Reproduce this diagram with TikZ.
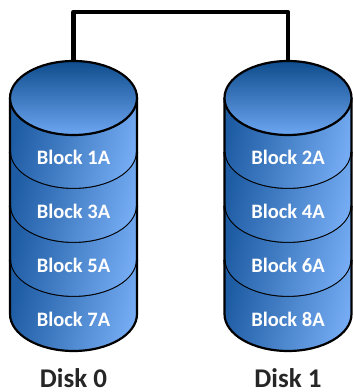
\documentclass[tikz,border=0pt]{standalone}
\usepackage{fontspec}
\setmainfont{Carlito}
\begin{document}
\begin{tikzpicture}[x=1pt,y=1pt,
  outline/.style={draw=black,line width=2.2pt},
  bandlabel/.style={text=white,font=\bfseries\fontsize{20.5}{24}\selectfont,inner sep=0pt},
  disklabel/.style={text=black!85,font=\bfseries\fontsize{27}{32}\selectfont,inner sep=0pt,anchor=base},
  link/.style={draw=black,line width=4.5pt,line join=round}]
\definecolor{topdark}{HTML}{0E4C8C}
\definecolor{toplight}{HTML}{6DA6F2}
\definecolor{banddark}{HTML}{1E5CA3}
\definecolor{bandlight}{HTML}{74ABF2}
\useasboundingbox (0,0) rectangle (353,392);
\def\rx{63.5}
\def\ry{37}
% one stacked cylinder per disk: four bands below a shaded top ellipse
\foreach \cx/\name/\a/\b/\c/\d in {73.5/0/1A/3A/5A/7A, 288/1/2A/4A/6A/8A}{
  \foreach \k/\lbl in {0/\a,1/\b,2/\c,3/\d}{
    \pgfmathsetmacro{\yt}{294-54*\k}
    \pgfmathsetmacro{\yb}{\yt-54}
    \shade[left color=banddark,right color=bandlight,shading angle=75]
      (\cx-\rx,\yt) arc[start angle=180,end angle=360,x radius=\rx,y radius=\ry]
      -- (\cx+\rx,\yb) arc[start angle=0,end angle=-180,x radius=\rx,y radius=\ry] -- cycle;
    \draw[outline]
      (\cx-\rx,\yt) -- (\cx-\rx,\yb) arc[start angle=180,end angle=360,x radius=\rx,y radius=\ry]
      -- (\cx+\rx,\yt);
    \node[bandlabel] (b\name\k) at (\cx,\yb-5) {Block \lbl};
  }
  \shade[top color=topdark,bottom color=toplight,outline]
    (\cx,294) ellipse[x radius=\rx,y radius=\ry];
  \coordinate (top\name) at (\cx,331);
  \node[disklabel] (disk\name) at (\cx,4.5) {Disk \name};
}
% connector joining the tops of the two disks
\draw[link] (top0) -- ++(0,49) -| (top1);
\end{tikzpicture}
\end{document}
